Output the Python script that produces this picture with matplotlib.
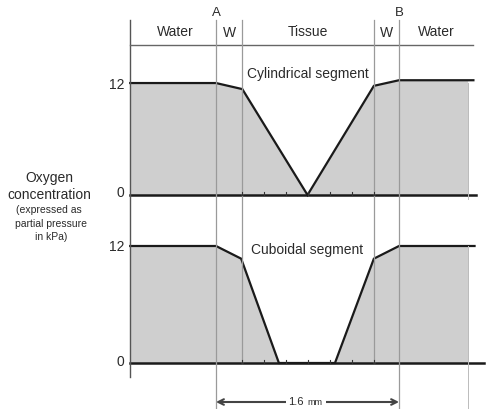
import numpy as np
import matplotlib
matplotlib.use("Agg")
import matplotlib.pyplot as plt

plt.rcParams['font.family'] = ['Liberation Sans', 'DejaVu Sans']

# distance across the segment in mm (A = 0, B = 1.6)
cyl_x = [-0.75, 0.0, 0.23, 0.80, 1.38, 1.60, 2.25]
cyl_y = [12.0, 12.0, 11.35, 0.0, 11.7, 12.3, 12.3]

cub_x = [-0.75, 0.0, 0.22, 0.55, 1.04, 1.38, 1.60, 2.26]
cub_y = [12.0, 12.0, 10.7, 0.0, 0.0, 10.7, 12.0, 12.0]

zone_names = ["Water", "W", "Tissue", "W", "Water"]
zone_centers = [-0.36, 0.115, 0.80, 1.49, 1.93]
boundaries = [0.0, 0.23, 1.38, 1.60]   # A, W/tissue, tissue/W, B
tissue_ticks = np.linspace(0.23, 1.38, 7)
fill_end = 2.2

px = 114.4  # pixels per mm
xlim = (-216 / px, 270 / px)

fig = plt.figure(figsize=(4.86, 4.09), dpi=100)
ax1 = fig.add_axes([0, 209 / 409, 1, 200 / 409])
ax2 = fig.add_axes([0, 0, 1, 209 / 409])
ax1.set_xlim(xlim)
ax2.set_xlim(xlim)
ax1.set_ylim(-5 / 9.33, 195 / 9.33)
ax2.set_ylim(-46 / 9.75, 163 / 9.75)
for ax in (ax1, ax2):
    ax.axis("off")

grey = "#9a9a9a"
fill_col = "#cfcfcf"
txt = "#2a2a2a"

# --- top panel: cylindrical segment
ax1.fill_between(cyl_x[:-1] + [fill_end], cyl_y[:-1] + [cyl_y[-1]], 0, color=fill_col, lw=0)
ax1.plot(cyl_x, cyl_y, color="#1a1a1a", lw=1.6, solid_joinstyle="miter")
ax1.plot([-0.752, 2.27], [0, 0], color="#1a1a1a", lw=1.8)
ax1.plot([-0.752, -0.752], [-1, 18.76], color="#555555", lw=1.0)
ax1.plot([-0.752, 2.247], [16.08, 16.08], color="#666666", lw=1.0)
for b in boundaries:
    ax1.plot([b, b], [-1, 18.76], color=grey, lw=0.9)
ax1.plot([fill_end, fill_end], [-1, 12.0], color="#bbbbbb", lw=0.7)
for t in tissue_ticks:
    ax1.plot([t, t], [0, 0.3], color="#333333", lw=0.8)
for name, c in zip(zone_names, zone_centers):
    yy = 17.36 if name == "W" else 17.47
    ax1.text(c, yy, name, ha="center", va="center", fontsize=10, color=txt)
ax1.text(boundaries[0], 19.5, "A", ha="center", va="center", fontsize=9.5, color=txt)
ax1.text(boundaries[3], 19.5, "B", ha="center", va="center", fontsize=9.5, color=txt)
ax1.text(0.80, 12.97, "Cylindrical segment", ha="center", va="center", fontsize=10, color=txt)
ax1.text(-0.80, 11.8, "12", ha="right", va="center", fontsize=10, color=txt)
ax1.text(-0.80, 0.2, "0", ha="right", va="center", fontsize=10, color=txt)

# --- bottom panel: cuboidal segment
ax2.fill_between(cub_x[:-1] + [fill_end], cub_y[:-1] + [cub_y[-1]], 0, color=fill_col, lw=0)
ax2.plot(cub_x, cub_y, color="#1a1a1a", lw=1.6, solid_joinstyle="miter")
ax2.plot([-0.752, 2.34], [0, 0], color="#1a1a1a", lw=1.8)
ax2.plot([-0.752, -0.752], [-1.44, 17], color="#555555", lw=1.0)
ax2.plot([boundaries[0]] * 2, [-5, 17], color=grey, lw=0.9)
ax2.plot([boundaries[3]] * 2, [-5, 17], color=grey, lw=0.9)
ax2.plot([boundaries[1]] * 2, [0, 17], color=grey, lw=0.9)
ax2.plot([boundaries[2]] * 2, [0, 17], color=grey, lw=0.9)
ax2.plot([fill_end, fill_end], [-5, 12.0], color="#bbbbbb", lw=0.7)
for t in tissue_ticks:
    ax2.plot([t, t], [0, 0.3], color="#333333", lw=0.8)
ax2.text(0.80, 11.6, "Cuboidal segment", ha="center", va="center", fontsize=10, color=txt)
ax2.text(-0.80, 11.9, "12", ha="right", va="center", fontsize=10, color=txt)
ax2.text(-0.80, 0.1, "0", ha="right", va="center", fontsize=10, color=txt)

# width arrow
ax2.annotate("", xy=(boundaries[0], -4.0), xytext=(boundaries[3], -4.0),
             arrowprops=dict(arrowstyle="<->", color="#444444", lw=1.5,
                             shrinkA=0, shrinkB=0, mutation_scale=10))
ax2.text(0.80, -4.05, "mm", ha="left", va="center", fontsize=6.5, color=txt,
         bbox=dict(fc="white", ec="none", pad=2.5))
ax2.text(0.77, -4.0, "1.6", ha="right", va="center", fontsize=8, color=txt,
         bbox=dict(fc="white", ec="none", pad=2.0))

# y label
fig.text(49 / 486, 1 - 178 / 409, "Oxygen", ha="center", va="center", fontsize=10, color=txt)
fig.text(49 / 486, 1 - 195 / 409, "concentration", ha="center", va="center", fontsize=10, color=txt)
fig.text(49 / 486, 1 - 210 / 409, "(expressed as", ha="center", va="center", fontsize=7.5, color=txt)
fig.text(51 / 486, 1 - 224 / 409, "partial pressure", ha="center", va="center", fontsize=7.5, color=txt)
fig.text(51 / 486, 1 - 237 / 409, "in kPa)", ha="center", va="center", fontsize=7.5, color=txt)

fig.savefig("out.png", dpi=100)
